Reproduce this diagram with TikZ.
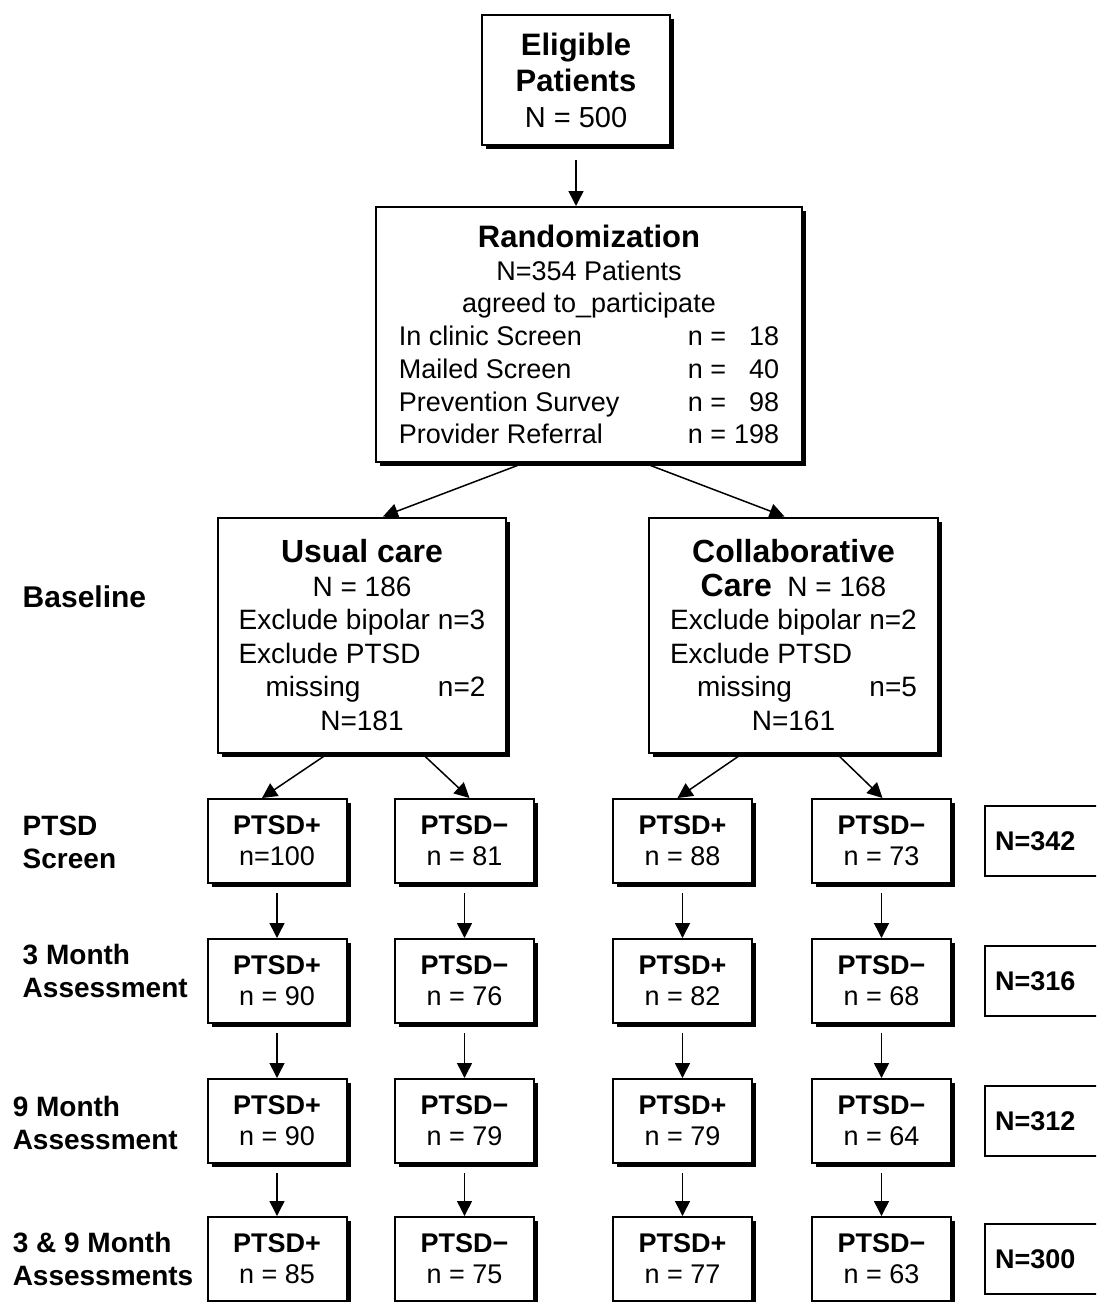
\documentclass[tikz,border=0pt]{standalone}
\usepackage{fontspec}
\setmainfont{Liberation Sans}
\usetikzlibrary{arrows.meta, shadows}
\newcommand{\headfont}{\fontsize{31}{36}\selectfont\bfseries}
\tikzset{
  every picture/.style={line width=1.5pt},
  box/.style={draw, line width=2pt, fill=white, align=center, inner sep=0pt,
    drop shadow={shadow xshift=4pt, shadow yshift=-4pt, fill=black, opacity=1},
    font=\fontsize{28}{33.6}\selectfont},
  cell/.style={box, minimum width=139pt, minimum height=84pt, font=\fontsize{27}{31}\selectfont},
  total/.style={draw, line width=2pt, fill=white, minimum width=150pt, minimum height=70pt,
    text width=130pt, inner xsep=10pt, align=left, font=\fontsize{27}{32}\selectfont\bfseries},
  lab/.style={anchor=west, align=left, inner sep=0pt, font=\fontsize{28}{33}\selectfont\bfseries},
  arrow/.style={-{Triangle[length=15pt, width=15pt]}, line width=1.5pt},
}

\begin{document}
\begin{tikzpicture}[x=1pt, y=-1pt]
  \useasboundingbox (0,0) rectangle (1096,1302);
  \clip (0,0) rectangle (1096,1302);

  % top of the chart
  \node[box, minimum width=188pt, minimum height=130pt, font=\fontsize{29}{36}\selectfont] (elig) at (576,80)
    {{\headfont Eligible}\\ {\headfont Patients}\\ N = 500};
  \node[box, minimum width=426pt, minimum height=255pt, font=\fontsize{27}{32.7}\selectfont] (rand) at (589,334.5)
    {{\headfont Randomization}\\ N=354 Patients\\ agreed to\_participate\\
     \makebox[289pt][l]{In clinic Screen}n =\makebox[53pt][r]{18}\\
     \makebox[289pt][l]{Mailed Screen}n =\makebox[53pt][r]{40}\\
     \makebox[289pt][l]{Prevention Survey}n =\makebox[53pt][r]{98}\\
     \makebox[289pt][l]{Provider Referral}n =\makebox[53pt][r]{198}};

  % the two arms
  \node[box, minimum width=288pt, minimum height=235pt] (usual) at (362,635)
    {{\fontsize{32}{34}\selectfont\bfseries Usual care}\\ N = 186\\ Exclude bipolar n=3\\
     \makebox[247pt][l]{Exclude PTSD}\\ \makebox[247pt][l]{\hspace{27pt}missing\hfill n=2}\\ N=181};
  \node[box, minimum width=289pt, minimum height=235pt] (collab) at (793.5,635)
    {{\fontsize{32}{34}\selectfont\bfseries Collaborative}\\ {\fontsize{32}{34}\selectfont\bfseries Care}\ \ N = 168\\ Exclude bipolar n=2\\
     \makebox[247pt][l]{Exclude PTSD}\\ \makebox[247pt][l]{\hspace{27pt}missing\hfill n=5}\\ N=161};

  % screen and follow-up rows
  \foreach \r/\y/\a/\b/\c/\d/\t in {1/841/n=100/n = 81/n = 88/n = 73/342,
      2/981/n = 90/n = 76/n = 82/n = 68/316, 3/1121/n = 90/n = 79/n = 79/n = 64/312,
      4/1259/n = 85/n = 75/n = 77/n = 63/300} {
    \node[cell] (up\r) at (277,\y) {\textbf{PTSD+}\\ \a};
    \node[cell] (un\r) at (464.5,\y) {\textbf{PTSD−}\\ \b};
    \node[cell] (cp\r) at (682.5,\y) {\textbf{PTSD+}\\ \c};
    \node[cell] (cn\r) at (881.5,\y) {\textbf{PTSD−}\\ \d};
    \node[total] (tot\r) at (1060,\y) {N=\t};
  }

  % row labels
  \node[lab, font=\fontsize{30}{33}\selectfont\bfseries] (base) at (22,597) {Baseline};
  \node[lab] (scr) at (22,842.5) {PTSD\\ Screen};
  \node[lab] (m3) at (22,971) {3 Month\\ Assessment};
  \node[lab] (m9) at (12,1122.5) {9 Month\\ Assessment};
  \node[lab] (m39) at (12,1259) {3 \& 9 Month\\ Assessments};

  % arrows
  \draw[arrow, shorten <=14pt] (elig.south) -- (elig.south |- rand.north);
  \draw[arrow, shorten <=2pt] ([xshift=-65pt]rand.south) -- ([xshift=21pt]usual.north);
  \draw[arrow, shorten <=2pt] ([xshift=55pt]rand.south) -- ([xshift=-9pt]collab.north);
  \draw[arrow, shorten <=3pt] ([xshift=-34pt]usual.south) -- ([xshift=-15pt]up1.north);
  \draw[arrow, shorten <=3pt] ([xshift=60pt]usual.south) -- ([xshift=5pt]un1.north);
  \draw[arrow, shorten <=3pt] ([xshift=-51pt]collab.south) -- ([xshift=-5pt]cp1.north);
  \draw[arrow, shorten <=3pt] ([xshift=43pt]collab.south) -- ([xshift=1pt]cn1.north);
  \foreach \r/\s in {1/2,2/3,3/4}
    \foreach \col in {up,un,cp,cn}
      \draw[arrow, shorten <=9pt] (\col\r.south) -- (\col\s.north);
\end{tikzpicture}
\end{document}
